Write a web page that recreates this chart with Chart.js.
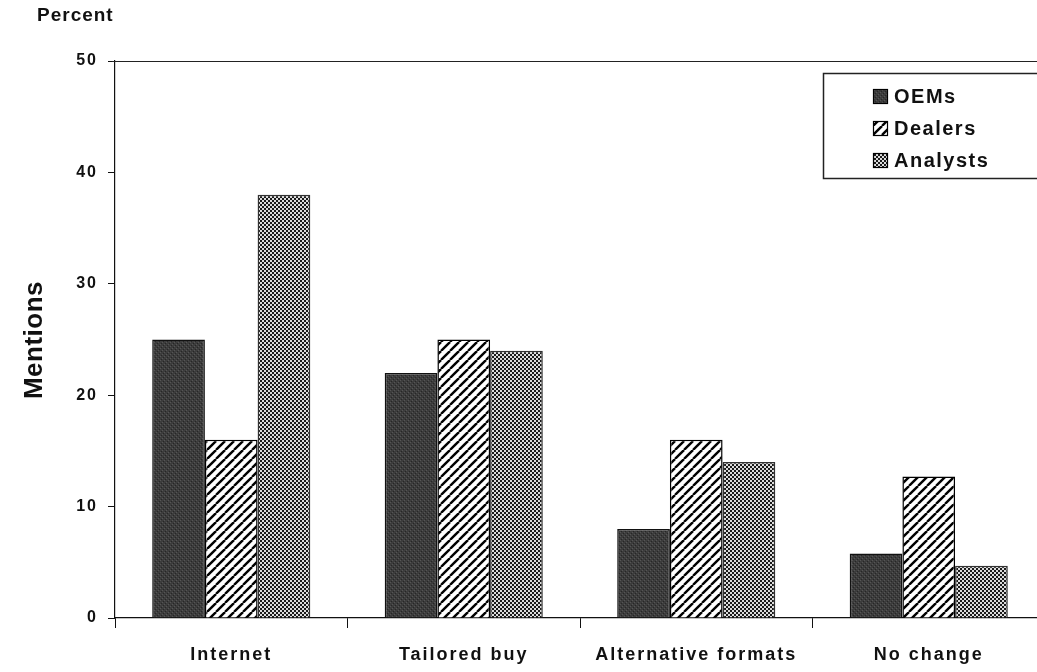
<!DOCTYPE html>
<html>
<head>
<meta charset="utf-8">
<script src="https://cdn.jsdelivr.net/npm/chart.js@4.4.0/dist/chart.umd.min.js"></script>
<style>
  html, body { margin: 0; padding: 0; background: #fff; overflow: hidden; }
  #wrap { width: 1037px; height: 672px; overflow: hidden; position: relative; }
  canvas { display: block; }
</style>
</head>
<body>
<div id="wrap"><canvas id="barChart" width="1050" height="672"></canvas></div>
<script>
// data
const categories = ['Internet', 'Tailored buy', 'Alternative formats', 'No change'];
const oems = [25, 22, 8, 5.8];
const dealers = [16, 25, 16, 12.7];
const analysts = [38, 24, 14, 4.7];
const seriesNames = ['OEMs', 'Dealers', 'Analysts'];
const yTicks = [0, 10, 20, 30, 40, 50];

// fill patterns, like the old print ones
function tile(size, draw){
  const c = document.createElement('canvas');
  c.width = size; c.height = size;
  const g = c.getContext('2d');
  draw(g, size);
  return document.createElement('canvas').getContext('2d').createPattern(c, 'repeat');
}

const darkFill = tile(4, (g, s) => {
  g.fillStyle = '#3c3c3c';
  g.fillRect(0, 0, s, s);
  g.fillStyle = '#555';
  g.fillRect(0, 0, 1, 1); g.fillRect(2, 2, 1, 1);
  g.fillStyle = '#262626';
  g.fillRect(3, 1, 1, 1); g.fillRect(1, 3, 1, 1);
});

const stripeFill = tile(9, (g, s) => {
  g.fillStyle = '#fff';
  g.fillRect(0, 0, s, s);
  g.strokeStyle = '#000';
  g.lineWidth = 2.4;
  [-s, 0, s].forEach(o => {
    g.beginPath();
    g.moveTo(o, s);
    g.lineTo(o + s, 0);
    g.stroke();
  });
});

const checkFill = tile(4, (g, s) => {
  g.fillStyle = '#dcdcdc';
  g.fillRect(0, 0, s, s);
  g.fillStyle = '#1a1a1a';
  g.fillRect(0, 0, 2, 2);
  g.fillRect(2, 2, 2, 2);
});

const fills = [darkFill, stripeFill, checkFill];

// extra bits: top line, titles, legend box
const extras = {
  id: 'extras',
  beforeDraw(chart){
    chart.ctx.letterSpacing = '2px';
  },
  afterDraw(chart){
    const ctx = chart.ctx;
    const a = chart.chartArea;
    ctx.save();
    ctx.letterSpacing = '0px';
    ctx.strokeStyle = '#222';
    ctx.lineWidth = 1;
    ctx.beginPath();
    ctx.moveTo(a.left - 3, a.top + 0.5);
    ctx.lineTo(chart.width, a.top + 0.5);
    ctx.stroke();

    ctx.fillStyle = '#111';
    ctx.font = 'bold 19px "Liberation Sans", Arial, sans-serif';
    ctx.letterSpacing = '1px';
    ctx.textAlign = 'left';
    ctx.textBaseline = 'middle';
    ctx.fillText('Percent', 37, 16);

    ctx.save();
    ctx.letterSpacing = '0.5px';
    ctx.translate(35, 340);
    ctx.rotate(-Math.PI / 2);
    ctx.textAlign = 'center';
    ctx.font = 'bold 26px "Liberation Sans", Arial, sans-serif';
    ctx.fillText('Mentions', 0, 0);
    ctx.restore();

    // legend
    ctx.strokeStyle = '#222';
    ctx.lineWidth = 1.5;
    ctx.strokeRect(823.5, 73.5, 300, 105);
    ctx.font = 'bold 20px "Liberation Sans", Arial, sans-serif';
    ctx.letterSpacing = '1.5px';
    const rows = [96, 128, 160];
    seriesNames.forEach((name, i) => {
      ctx.fillStyle = fills[i];
      ctx.fillRect(873, rows[i] - 7, 15, 15);
      ctx.lineWidth = 1.2;
      ctx.strokeStyle = '#000';
      ctx.strokeRect(873.5, rows[i] - 6.5, 14, 14);
      ctx.fillStyle = '#111';
      ctx.textAlign = 'left';
      ctx.fillText(name, 894, rows[i] + 1);
    });
    ctx.restore();
  }
};

const barCtx = document.getElementById('barChart');
new Chart(barCtx, {
  type: 'bar',
  data: {
    labels: categories,
    datasets: [
      { label: seriesNames[0], data: oems, backgroundColor: darkFill, borderColor: '#111', borderWidth: 1.5 },
      { label: seriesNames[1], data: dealers, backgroundColor: stripeFill, borderColor: '#000', borderWidth: 1.5 },
      { label: seriesNames[2], data: analysts, backgroundColor: checkFill, borderColor: '#333', borderWidth: 1.5 }
    ]
  },
  options: {
    responsive: false,
    animation: false,
    layout: { padding: { top: 61, right: 5, left: 0, bottom: 0 } },
    datasets: { bar: { categoryPercentage: 0.68, barPercentage: 1.0 } },
    plugins: { legend: { display: false }, tooltip: { enabled: false } },
    scales: {
      x: {
        afterFit: s => { s.height = 54; },
        grid: { offset: true, drawOnChartArea: false, tickLength: 10, color: '#111', lineWidth: 1 },
        border: { display: true, color: '#111', width: 1.2 },
        ticks: {
          color: '#111',
          padding: 16,
          maxRotation: 0,
          font: { family: '"Liberation Sans", Arial, sans-serif', size: 18, weight: 'bold' }
        }
      },
      y: {
        min: 0,
        max: 50,
        afterFit: s => { s.width = 115; },
        afterBuildTicks: s => { s.ticks = yTicks.map(v => ({ value: v })); },
        grid: { drawOnChartArea: false, tickLength: 7, color: '#111' },
        border: { display: true, color: '#111', width: 1.2 },
        ticks: {
          color: '#111',
          padding: 10,
          font: { family: '"Liberation Sans", Arial, sans-serif', size: 16, weight: 'bold' }
        }
      }
    }
  },
  plugins: [extras]
});
</script>
</body>
</html>
